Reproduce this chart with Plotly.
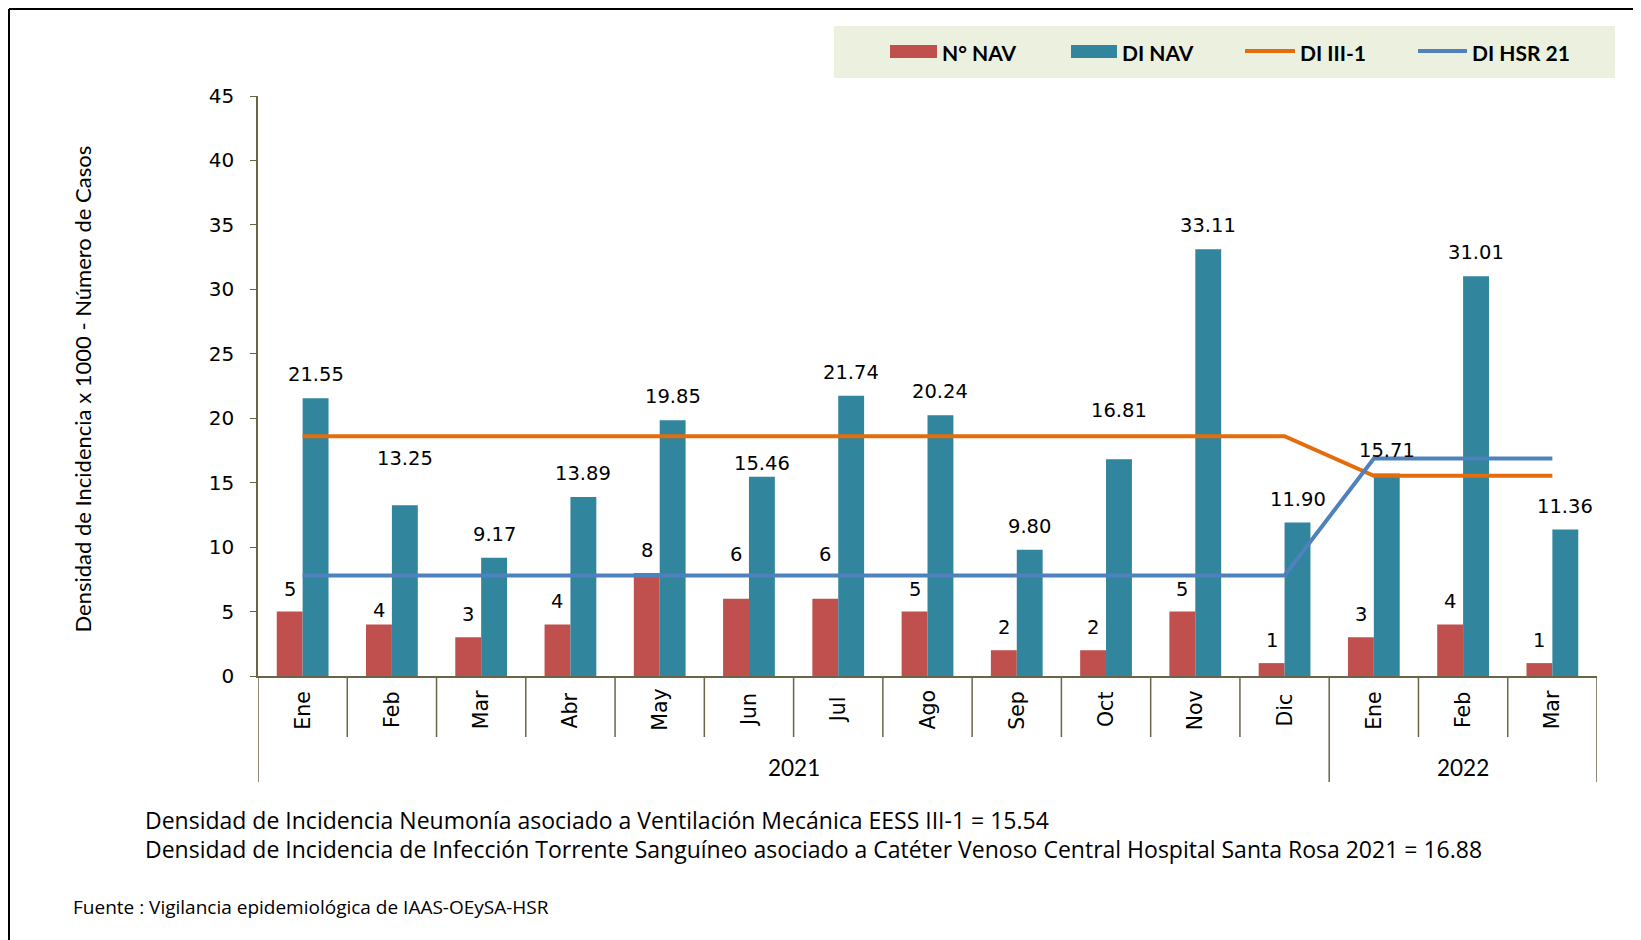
import plotly.graph_objects as go

# ---------------- data ----------------
months = ["Ene", "Feb", "Mar", "Abr", "May", "Jun", "Jul", "Ago", "Sep", "Oct", "Nov", "Dic", "Ene", "Feb", "Mar"]
year_labels = ["2021", "2022"]
year_spans = [(0, 11), (12, 14)]
n_nav = [5, 4, 3, 4, 8, 6, 6, 5, 2, 2, 5, 1, 3, 4, 1]
di_nav = [21.55, 13.25, 9.17, 13.89, 19.85, 15.46, 21.74, 20.24, 9.80, 16.81, 33.11, 11.90, 15.71, 31.01, 11.36]
di_iii1 = [18.6, 18.6, 18.6, 18.6, 18.6, 18.6, 18.6, 18.6, 18.6, 18.6, 18.6, 18.6, 15.54, 15.54, 15.54]
di_hsr21 = [7.8, 7.8, 7.8, 7.8, 7.8, 7.8, 7.8, 7.8, 7.8, 7.8, 7.8, 7.8, 16.88, 16.88, 16.88]
series_names = ["N° NAV", "DI NAV", "DI III-1", "DI HSR 21"]
y_title = "Densidad de Incidencia x 1000 - Número de Casos"
notes = [
    "Densidad de Incidencia Neumonía asociado a Ventilación Mecánica EESS III-1 = 15.54",
    "Densidad de Incidencia de Infección Torrente Sanguíneo asociado a Catéter Venoso Central Hospital Santa Rosa 2021 = 16.88",
]
source = "Fuente : Vigilancia epidemiológica de IAAS-OEySA-HSR"

# ---------------- style / layout ----------------
RED = "#C0504D"
TEAL = "#31859C"
ORANGE = "#E46C0A"
BLUE = "#4F81BD"
AXIS = "#6B6547"
OFF = 8                      # page body margin
FW, FH = 1641 - OFF, 940 - OFF
L, R, T, B = 250, 1589, 88, 668  # plot area in figure px
PW, PH = R - L, B - T
BW = 0.29

# label vertical tweaks (px) to mimic the reference placement
red_extra = [0, -9, 0, 0, 0, 22, 22, 0, 0, 0, 0, 0, 0, 0, 0]
teal_extra = [0, 23, 0, 0, 0, -10, 0, 0, 0, 25, 0, 0, 0, 0, 0]


def px(s):  # screen x -> paper
    return (s - OFF - L) / PW


def py(s):  # screen y -> paper
    return (B - (s - OFF)) / PH


x = list(range(len(months)))

fig = go.Figure()
fig.add_trace(go.Bar(x=x, y=n_nav, name=series_names[0], width=BW, offset=-BW,
                     marker=dict(color=RED, line=dict(width=0)), showlegend=False))
fig.add_trace(go.Bar(x=x, y=di_nav, name=series_names[1], width=BW, offset=0,
                     marker=dict(color=TEAL, line=dict(width=0)), showlegend=False))
fig.add_trace(go.Scatter(x=x, y=di_iii1, name=series_names[2], mode="lines",
                         line=dict(color=ORANGE, width=4), showlegend=False))
fig.add_trace(go.Scatter(x=x, y=di_hsr21, name=series_names[3], mode="lines",
                         line=dict(color=BLUE, width=4), showlegend=False))

ann = []
shapes = []
lab_font = dict(family="DejaVu Sans", size=19.5, color="black")
for i in x:
    ann.append(dict(x=i - BW / 2, y=n_nav[i], xref="x", yref="y", text=str(n_nav[i]),
                    showarrow=False, yanchor="bottom", yshift=9 + red_extra[i], font=lab_font))
    ann.append(dict(x=i + BW / 2, y=di_nav[i], xref="x", yref="y", text=f"{di_nav[i]:.2f}",
                    showarrow=False, yanchor="bottom", yshift=10 + teal_extra[i], font=lab_font))
    ann.append(dict(x=i, y=py(710), xref="x", yref="paper", text=months[i], showarrow=False,
                    textangle=-90, xanchor="center", yanchor="middle",
                    font=dict(family="DejaVu Sans", size=20.5, color="black")))

# category separators
long_bounds = {-0.5}
for s, e in year_spans:
    long_bounds.add(e + 0.5)
for i in range(len(months) + 1):
    b = i - 0.5
    bottom = 782 if b in long_bounds else 737
    shapes.append(dict(type="line", xref="x", yref="paper", x0=b, x1=b, y0=0, y1=py(bottom),
                       line=dict(color=AXIS, width=1.5)))
for lab, (s, e) in zip(year_labels, year_spans):
    ann.append(dict(x=(s + e) / 2, y=py(767), xref="x", yref="paper", text=lab, showarrow=False,
                    yanchor="middle", font=dict(family="Lato", size=22.5, color="black")))

# y-axis title
ann.append(dict(x=px(66), y=py(389), xref="paper", yref="paper", text=y_title, showarrow=False,
                textangle=-90, font=dict(family="Lato", size=22, color="black")))

# notes
for k, t in enumerate(notes):
    ann.append(dict(x=px(143), y=py(820 + 29 * k), xref="paper", yref="paper", text=t,
                    showarrow=False, xanchor="left", yanchor="middle",
                    font=dict(family="Open Sans", size=23, color="black")))
ann.append(dict(x=px(71), y=py(907), xref="paper", yref="paper", text=source, showarrow=False,
                xanchor="left", yanchor="middle", font=dict(family="Open Sans", size=19, color="black")))

# manual legend
shapes.append(dict(type="rect", xref="paper", yref="paper", x0=px(834), x1=px(1615), y0=py(78), y1=py(26),
                   fillcolor="#EBF1DE", line=dict(width=0), layer="below"))
leg_items = [
    (series_names[0], "rect", RED, 890, 937, 940),
    (series_names[1], "rect", TEAL, 1071, 1117, 1120),
    (series_names[2], "line", ORANGE, 1245, 1295, 1298),
    (series_names[3], "line", BLUE, 1418, 1467, 1470),
]
for name, kind, col, a, b_, tx in leg_items:
    if kind == "rect":
        shapes.append(dict(type="rect", xref="paper", yref="paper", x0=px(a), x1=px(b_),
                           y0=py(58), y1=py(45), fillcolor=col, line=dict(width=0)))
    else:
        shapes.append(dict(type="line", xref="paper", yref="paper", x0=px(a), x1=px(b_),
                           y0=py(51), y1=py(51), line=dict(color=col, width=4)))
    ann.append(dict(x=px(tx), y=py(52), xref="paper", yref="paper", text=f"<b>{name}</b>",
                    showarrow=False, xanchor="left", yanchor="middle",
                    font=dict(family="Lato", size=21, color="black")))

# outer frame (left & top visible)
shapes.append(dict(type="line", xref="paper", yref="paper", x0=px(9), x1=px(1660), y0=py(9), y1=py(9),
                   line=dict(color="black", width=2)))
shapes.append(dict(type="line", xref="paper", yref="paper", x0=px(9), x1=px(9), y0=py(9), y1=py(960),
                   line=dict(color="black", width=2)))

fig.update_layout(
    width=FW, height=FH,
    margin=dict(l=L, r=FW - R, t=T, b=FH - B),
    paper_bgcolor="white", plot_bgcolor="white",
    barmode="overlay",
    annotations=ann, shapes=shapes,
    showlegend=False,
    xaxis=dict(range=[-0.5, len(months) - 0.5], showticklabels=False, ticks="", showgrid=False,
               zeroline=False, showline=True, linecolor=AXIS, linewidth=2),
    yaxis=dict(range=[0, 45], dtick=5, showgrid=False, zeroline=False, showline=True,
               linecolor=AXIS, linewidth=1.5, ticks="outside", ticklen=6, tickcolor=AXIS,
               ticklabelstandoff=12, tickfont=dict(family="DejaVu Sans", size=20, color="black")),
)

fig.write_html("out.html")
